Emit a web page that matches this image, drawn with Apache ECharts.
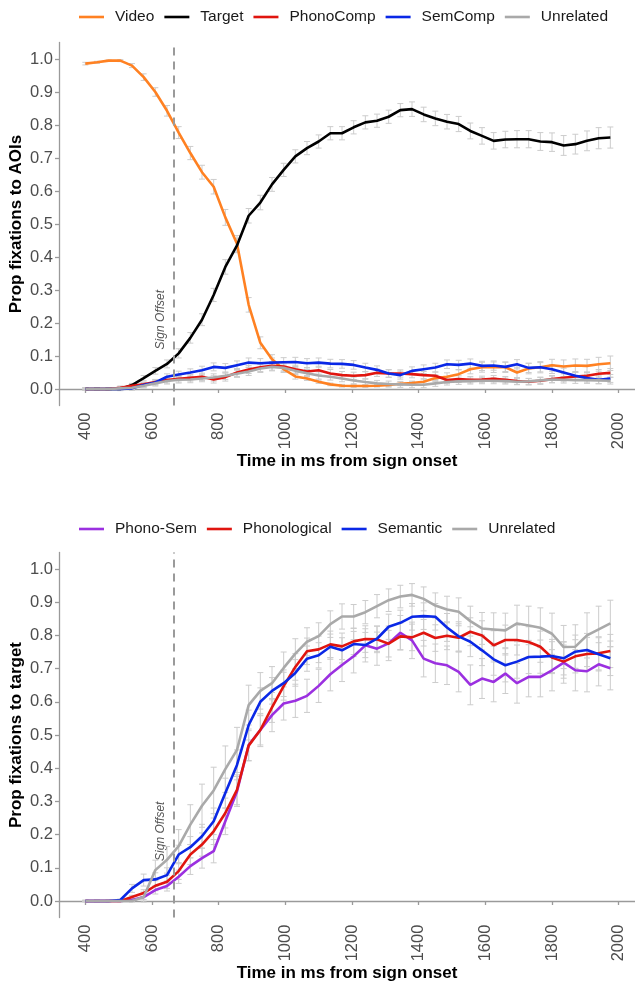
<!DOCTYPE html>
<html>
<head>
<meta charset="utf-8">
<script src="https://cdn.jsdelivr.net/npm/echarts@6/dist/echarts.min.js"></script>
<style>html,body{margin:0;padding:0;background:#fff}#c{width:635px;height:985px}</style>
</head>
<body>
<div id="c"></div>
<script>
// ---- data ----
const times = [400,435,470,505,540,575,610,645,680,715,750,785,820,855,890,925,960,995,1030,1065,1100,1135,1170,1205,1240,1275,1310,1345,1380,1415,1450,1485,1520,1555,1590,1625,1660,1695,1730,1765,1800,1835,1870,1905,1940,1975];
const xTickLabels = [400,600,800,1000,1200,1400,1600,1800,2000];
const yTickLabels = [0,0.1,0.2,0.3,0.4,0.5,0.6,0.7,0.8,0.9,1.0];
const signOffset = 665;

// top panel: fixations to AOIs
const video = [0.986,0.99,0.995,0.995,0.98,0.945,0.90,0.843,0.777,0.715,0.657,0.613,0.52,0.44,0.255,0.14,0.09,0.06,0.038,0.032,0.022,0.014,0.01,0.009,0.009,0.01,0.012,0.016,0.018,0.022,0.033,0.037,0.045,0.06,0.066,0.066,0.066,0.05,0.062,0.066,0.072,0.068,0.071,0.07,0.075,0.078];
const target = [0,0,0,0,0.012,0.033,0.055,0.076,0.108,0.155,0.21,0.285,0.37,0.435,0.525,0.565,0.62,0.664,0.705,0.73,0.75,0.775,0.775,0.793,0.808,0.813,0.825,0.845,0.848,0.832,0.82,0.81,0.803,0.782,0.767,0.752,0.756,0.757,0.757,0.75,0.748,0.738,0.742,0.752,0.76,0.762];
const phonoComp = [0,0,0,0.004,0.01,0.014,0.021,0.027,0.031,0.034,0.037,0.029,0.036,0.05,0.059,0.066,0.07,0.068,0.06,0.053,0.057,0.047,0.042,0.04,0.042,0.049,0.047,0.047,0.045,0.042,0.04,0.027,0.03,0.028,0.029,0.031,0.028,0.024,0.022,0.025,0.03,0.034,0.038,0.04,0.046,0.049];
const semComp = [0,0,0,0,0.002,0.012,0.02,0.037,0.044,0.05,0.057,0.067,0.064,0.072,0.08,0.078,0.08,0.081,0.082,0.078,0.08,0.077,0.076,0.073,0.065,0.058,0.047,0.042,0.055,0.06,0.065,0.075,0.073,0.077,0.07,0.071,0.067,0.075,0.064,0.066,0.06,0.05,0.04,0.033,0.028,0.032];
const unrelatedTop = [0,0,0,0.002,0.004,0.01,0.017,0.024,0.028,0.029,0.032,0.035,0.04,0.046,0.053,0.062,0.067,0.064,0.055,0.048,0.041,0.037,0.032,0.026,0.021,0.017,0.015,0.014,0.013,0.013,0.017,0.021,0.023,0.024,0.025,0.025,0.024,0.022,0.023,0.026,0.029,0.028,0.027,0.027,0.026,0.025];
const seVideo = [0.004,0.003,0.002,0.003,0.006,0.01,0.013,0.016,0.018,0.02,0.021,0.022,0.024,0.025,0.022,0.018,0.014,0.01,0.008,0.006,0.005,0.004,0.004,0.004,0.004,0.004,0.005,0.005,0.006,0.008,0.01,0.012,0.013,0.014,0.015,0.016,0.016,0.016,0.016,0.017,0.018,0.02,0.02,0.02,0.021,0.022];
const seTarget = [0.002,0.002,0.002,0.003,0.005,0.008,0.01,0.012,0.014,0.016,0.018,0.02,0.022,0.022,0.022,0.022,0.021,0.02,0.02,0.02,0.02,0.02,0.02,0.02,0.02,0.02,0.02,0.02,0.022,0.022,0.022,0.022,0.023,0.024,0.025,0.025,0.025,0.026,0.026,0.027,0.028,0.03,0.03,0.03,0.032,0.032];
const sePhonoComp = [0.004,0.004,0.004,0.005,0.006,0.007,0.008,0.009,0.01,0.01,0.011,0.011,0.012,0.012,0.012,0.013,0.013,0.013,0.012,0.012,0.012,0.012,0.011,0.011,0.011,0.011,0.011,0.011,0.011,0.011,0.011,0.01,0.01,0.01,0.01,0.01,0.01,0.01,0.01,0.011,0.011,0.012,0.012,0.012,0.013,0.013];
const seSemComp = [0.004,0.004,0.004,0.005,0.006,0.007,0.008,0.009,0.01,0.011,0.012,0.012,0.013,0.013,0.014,0.014,0.014,0.014,0.014,0.014,0.014,0.013,0.013,0.013,0.013,0.012,0.012,0.012,0.012,0.013,0.013,0.013,0.014,0.014,0.014,0.014,0.014,0.014,0.014,0.014,0.013,0.013,0.013,0.012,0.012,0.012];
const seUnrelatedTop = [0.004,0.004,0.004,0.005,0.006,0.007,0.008,0.009,0.01,0.01,0.01,0.011,0.011,0.011,0.012,0.012,0.012,0.012,0.011,0.011,0.011,0.01,0.01,0.01,0.009,0.009,0.009,0.009,0.009,0.009,0.009,0.009,0.009,0.009,0.009,0.009,0.009,0.009,0.009,0.009,0.01,0.01,0.01,0.01,0.01,0.01];

// bottom panel: fixations to target by condition
const phonoSem = [0,0,0,0,0.003,0.012,0.033,0.045,0.073,0.105,0.129,0.15,0.24,0.33,0.47,0.515,0.56,0.595,0.603,0.618,0.648,0.683,0.711,0.737,0.77,0.76,0.776,0.808,0.785,0.73,0.716,0.71,0.69,0.651,0.67,0.66,0.685,0.656,0.675,0.675,0.695,0.718,0.695,0.692,0.713,0.701];
const phonological = [0,0,0,0,0.012,0.024,0.046,0.058,0.09,0.14,0.17,0.21,0.265,0.335,0.468,0.515,0.583,0.647,0.705,0.752,0.758,0.773,0.767,0.782,0.789,0.788,0.775,0.797,0.794,0.808,0.792,0.799,0.793,0.811,0.8,0.77,0.786,0.786,0.78,0.766,0.733,0.721,0.737,0.744,0.746,0.753];
const semantic = [0,0,0,0.003,0.038,0.063,0.065,0.078,0.14,0.162,0.195,0.24,0.325,0.41,0.53,0.6,0.633,0.656,0.687,0.73,0.74,0.766,0.755,0.774,0.771,0.79,0.826,0.838,0.856,0.858,0.856,0.824,0.797,0.781,0.755,0.728,0.71,0.721,0.735,0.736,0.738,0.731,0.751,0.756,0.743,0.731];
const unrelatedBottom = [0,0,0,0,0,0.012,0.093,0.124,0.165,0.23,0.287,0.333,0.397,0.455,0.59,0.633,0.656,0.702,0.745,0.781,0.798,0.834,0.857,0.857,0.87,0.888,0.906,0.917,0.922,0.91,0.89,0.878,0.871,0.843,0.821,0.818,0.815,0.836,0.83,0.823,0.805,0.765,0.766,0.8,0.818,0.836];
const sePhonoSem = [0.002,0.002,0.002,0.002,0.004,0.008,0.012,0.015,0.02,0.025,0.03,0.035,0.04,0.045,0.048,0.05,0.05,0.05,0.05,0.05,0.05,0.05,0.05,0.05,0.05,0.05,0.052,0.052,0.055,0.055,0.058,0.058,0.06,0.06,0.06,0.06,0.06,0.06,0.06,0.06,0.062,0.062,0.062,0.062,0.065,0.065];
const sePhonological = [0.002,0.002,0.002,0.002,0.005,0.01,0.015,0.02,0.025,0.03,0.035,0.04,0.045,0.045,0.045,0.045,0.045,0.042,0.04,0.04,0.04,0.04,0.04,0.04,0.04,0.04,0.04,0.04,0.04,0.04,0.04,0.042,0.042,0.042,0.044,0.044,0.045,0.045,0.046,0.047,0.048,0.05,0.05,0.05,0.05,0.05];
const seSemantic = [0.002,0.002,0.002,0.003,0.012,0.018,0.02,0.022,0.028,0.032,0.036,0.04,0.045,0.045,0.045,0.042,0.04,0.04,0.04,0.038,0.038,0.038,0.038,0.038,0.038,0.038,0.038,0.038,0.04,0.04,0.04,0.042,0.044,0.045,0.046,0.048,0.05,0.05,0.05,0.05,0.05,0.05,0.05,0.05,0.05,0.052];
const seUnrelatedBottom = [0.002,0.002,0.002,0.002,0.003,0.015,0.03,0.04,0.05,0.06,0.065,0.07,0.07,0.068,0.06,0.055,0.05,0.048,0.045,0.042,0.04,0.04,0.038,0.036,0.035,0.035,0.034,0.034,0.034,0.036,0.038,0.04,0.042,0.045,0.048,0.05,0.052,0.055,0.058,0.06,0.062,0.065,0.066,0.068,0.07,0.07];

const topSeries = [
  {name:'Video', values:video, se:seVideo, color:'#ff8122'},
  {name:'Target', values:target, se:seTarget, color:'#000000'},
  {name:'PhonoComp', values:phonoComp, se:sePhonoComp, color:'#e0150f'},
  {name:'SemComp', values:semComp, se:seSemComp, color:'#0a28e6'},
  {name:'Unrelated', values:unrelatedTop, se:seUnrelatedTop, color:'#a9a9a9'}
];
const bottomSeries = [
  {name:'Phono-Sem', values:phonoSem, se:sePhonoSem, color:'#9b30e0'},
  {name:'Phonological', values:phonological, se:sePhonological, color:'#e0150f'},
  {name:'Semantic', values:semantic, se:seSemantic, color:'#0a28e6'},
  {name:'Unrelated', values:unrelatedBottom, se:seUnrelatedBottom, color:'#a9a9a9'}
];

// ---- chart ----
const FONT = '"Liberation Sans", Arial, sans-serif';
const chart = echarts.init(document.getElementById('c'), null, {renderer:'canvas'});

function xAxisFor(gi) {
  return {
    type:'value', gridIndex:gi, min:321, max:2049,
    name:'Time in ms from sign onset', nameLocation:'middle', nameGap:47, nameMoveOverlap:false,
    nameTextStyle:{fontFamily:FONT, fontSize:17, fontWeight:'bold', color:'#000'},
    axisLine:{show:true, lineStyle:{color:'#9a9a9a', width:1.3}},
    axisTick:{show:true, length:4, lineStyle:{color:'#9a9a9a', width:1.3}, customValues:xTickLabels},
    axisLabel:{rotate:90, margin:7, fontFamily:FONT, fontSize:16.5, color:'#4d4d4d', customValues:xTickLabels, formatter:v=>String(v)},
    splitLine:{show:false}
  };
}
function yAxisFor(gi, title) {
  return {
    type:'value', gridIndex:gi, min:-0.05, max:1.05,
    name:title, nameLocation:'middle', nameGap:34, nameRotate:90, nameMoveOverlap:false,
    nameTextStyle:{fontFamily:FONT, fontSize:17, fontWeight:'bold', color:'#000'},
    axisLine:{show:true, lineStyle:{color:'#9a9a9a', width:1.3}},
    axisTick:{show:true, length:4, lineStyle:{color:'#9a9a9a', width:1.3}, customValues:yTickLabels},
    axisLabel:{margin:6, fontFamily:FONT, fontSize:16.5, color:'#4d4d4d', customValues:yTickLabels, formatter:v=>v.toFixed(1)},
    splitLine:{show:false}
  };
}

function errorBars(s, gi) {
  return {
    type:'custom', name:s.name+'_se', xAxisIndex:gi, yAxisIndex:gi, z:1, silent:true,
    data: times.map((t,i)=>[t, s.values[i], s.se[i]]),
    encode:{x:0, y:1},
    renderItem:function(params, api){
      const x = api.value(0), y = api.value(1), e = api.value(2);
      const lo = api.coord([x, y-e]), hi = api.coord([x, y+e]);
      const w = 3;
      const st = {stroke:'#cccccc', lineWidth:1};
      return {type:'group', children:[
        {type:'line', shape:{x1:lo[0], y1:lo[1], x2:hi[0], y2:hi[1]}, style:st},
        {type:'line', shape:{x1:lo[0]-w, y1:lo[1], x2:lo[0]+w, y2:lo[1]}, style:st},
        {type:'line', shape:{x1:hi[0]-w, y1:hi[1], x2:hi[0]+w, y2:hi[1]}, style:st}
      ]};
    }
  };
}
function lineSeries(s, gi) {
  return {
    type:'line', name:s.name, xAxisIndex:gi, yAxisIndex:gi, z:3,
    data: times.map((t,i)=>[t, s.values[i]]),
    showSymbol:false, symbol:'none', smooth:false,
    lineStyle:{color:s.color, width:2.6}, itemStyle:{color:s.color},
    emphasis:{disabled:true}
  };
}
function offsetLine(gi) {
  return {
    type:'line', name:'offset'+gi, xAxisIndex:gi, yAxisIndex:gi, data:[], z:2,
    markLine:{silent:true, symbol:'none', label:{show:false},
      lineStyle:{color:'#9a9a9a', width:2, type:[8,6]},
      data:[{xAxis:signOffset}]}
  };
}

const series = [];
topSeries.forEach(s=>series.push(errorBars(s,0)));
bottomSeries.forEach(s=>series.push(errorBars(s,1)));
series.push(offsetLine(0), offsetLine(1));
topSeries.forEach(s=>series.push(lineSeries(s,0)));
bottomSeries.forEach(s=>series.push(lineSeries(s,1)));

function legendFor(items, top) {
  return {
    top:top, left:74, orient:'horizontal', itemWidth:25, itemHeight:2.6, itemGap:10,
    icon:'rect', selectedMode:false,
    textStyle:{fontFamily:FONT, fontSize:15.5, color:'#1a1a1a', padding:[0,0,0,6]},
    data: items.map(s=>({name:s.name, itemStyle:{color:s.color}}))
  };
}

chart.setOption({
  animation:false,
  backgroundColor:'#fff',
  legend:[legendFor(topSeries, 4), legendFor(bottomSeries, 516)],
  grid:[
    {left:59, top:42.5, width:576, height:363, containLabel:false, outerBoundsMode:'none'},
    {left:59, top:552.4, width:576, height:365.2, containLabel:false, outerBoundsMode:'none'}
  ],
  xAxis:[xAxisFor(0), xAxisFor(1)],
  yAxis:[yAxisFor(0,'Prop fixations to AOIs'), yAxisFor(1,'Prop fixations to target')],
  series:series
});

// "Sign Offset" annotations placed via the axes
const labelLevel = 0.21;
const g = [0,1].map(gi=>{
  const p = chart.convertToPixel({gridIndex:gi}, [signOffset, labelLevel]);
  return {type:'text', x:p[0]-13, y:p[1], rotation:Math.PI/2,
    style:{text:'Sign Offset', fontFamily:FONT, fontSize:12, fontStyle:'italic', fill:'#555', align:'center', verticalAlign:'middle'}};
});
chart.setOption({graphic:g});
</script>
</body>
</html>
